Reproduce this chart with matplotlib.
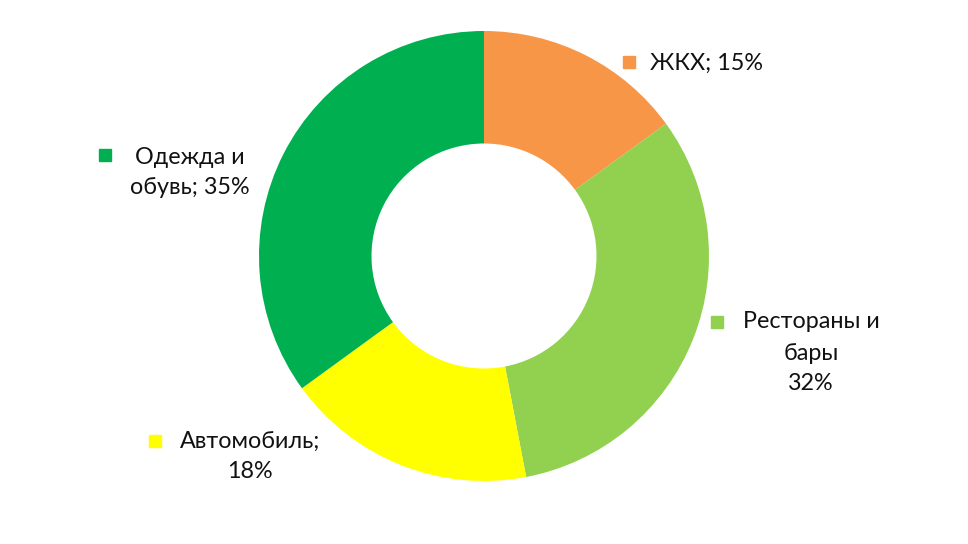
import matplotlib.pyplot as plt

# --- Data ---
labels = ["ЖКХ; 15%", "Рестораны и\nбары\n32%", "Автомобиль;\n18%", "Одежда и\nобувь; 35%"]
shares = [15, 32, 18, 35]
colors = ["#F79646", "#92D050", "#FFFF00", "#00B050"]

# label anchors (pixel space, y from top): marker x, marker y, text center x, first line y
label_pos = [
    (629, 62, 705, 63),
    (717, 322, 811, 322),
    (155, 441, 250, 441),
    (105, 155, 190, 157),
]

W, H = 968, 544
plt.rcParams["font.family"] = ["Lato", "DejaVu Sans"]

fig = plt.figure(figsize=(W / 100, H / 100), dpi=100)
ax = fig.add_axes([0, 0, 1, 1])

ax.pie(shares, colors=colors, startangle=90, counterclock=False,
       center=(484, H - 256), radius=225,
       wedgeprops=dict(width=112.5, edgecolor="white", linewidth=0))

# pie() resets the limits, so set them afterwards
ax.set_xlim(0, W)
ax.set_ylim(0, H)
ax.set_aspect("equal")
ax.axis("off")

fs = 16.8
line_h = 31
for lab, col, (mx, my, tx, ty) in zip(labels, colors, label_pos):
    ax.plot(mx, H - my, marker="s", ms=9, color=col, mec=col)
    for i, line in enumerate(lab.split("\n")):
        if i == 0 and "\n" in lab:
            # first line sits to the right of the marker
            ax.text(tx, H - ty, line, ha="center", va="center",
                    fontsize=fs, color="#111111")
        elif i == 0:
            ax.text(mx + 21, H - ty, line, ha="left", va="center",
                    fontsize=fs, color="#111111")
        else:
            ax.text(tx, H - ty - i * line_h, line, ha="center", va="center",
                    fontsize=fs, color="#111111")

fig.savefig("out.png", dpi=100, facecolor="white")
